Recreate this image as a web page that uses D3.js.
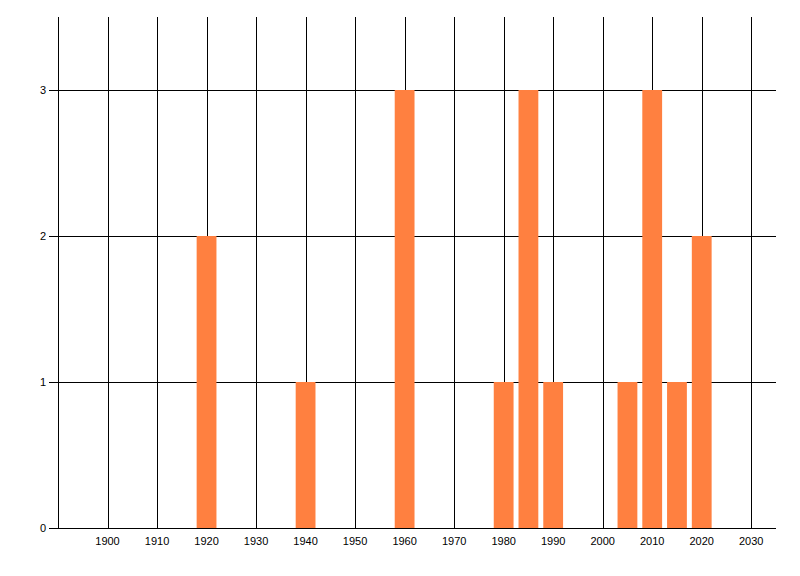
<!DOCTYPE html>
<html>
<head>
<meta charset="utf-8">
<script src="https://cdn.jsdelivr.net/npm/d3@7"></script>
<style>
  body { margin: 0; background: #fff; }
  text { font-family: "Liberation Sans", Arial, sans-serif; font-size: 11px; fill: #000; }
</style>
</head>
<body>
<script>
// data
const years = [1920, 1940, 1960, 1980, 1985, 1990, 2005, 2010, 2015, 2020];
const counts = [2, 1, 3, 1, 3, 1, 1, 3, 1, 2];
const xTicks = [1900, 1910, 1920, 1930, 1940, 1950, 1960, 1970, 1980, 1990, 2000, 2010, 2020, 2030];
const yTicks = [0, 1, 2, 3];

const width = 800, height = 576;
const margin = { top: 17, right: 24, bottom: 48, left: 58 };

const svg = d3.select("body")
  .append("svg")
  .attr("width", width)
  .attr("height", height);

const x = d3.scaleLinear()
  .domain([1890, 2035])
  .range([margin.left, width - margin.right]);

const y = d3.scaleLinear()
  .domain([0, 3.5])
  .range([height - margin.bottom, margin.top]);

const barW = x(1894) - x(1890);

// vertical grid
svg.append("g")
  .selectAll("line")
  .data(xTicks)
  .enter()
  .append("line")
  .attr("x1", d => Math.round(x(d)) + 0.5)
  .attr("x2", d => Math.round(x(d)) + 0.5)
  .attr("y1", y(3.5))
  .attr("y2", y(0))
  .attr("stroke", "#000");

// horizontal grid (with the little tick to the left)
svg.append("g")
  .selectAll("line")
  .data(yTicks)
  .enter()
  .append("line")
  .attr("x1", margin.left - 9)
  .attr("x2", x(2035))
  .attr("y1", d => Math.round(y(d)) + 0.5)
  .attr("y2", d => Math.round(y(d)) + 0.5)
  .attr("stroke", "#000");

// bars
svg.append("g")
  .selectAll("rect")
  .data(years)
  .enter()
  .append("rect")
  .attr("x", d => x(d) - barW / 2)
  .attr("width", barW)
  .attr("y", (d, i) => y(counts[i]))
  .attr("height", (d, i) => y(0) - y(counts[i]))
  .attr("fill", "#ff8040");

// axes lines
svg.append("line")
  .attr("x1", Math.round(x(1890)) + 0.5)
  .attr("x2", Math.round(x(1890)) + 0.5)
  .attr("y1", y(3.5))
  .attr("y2", y(0))
  .attr("stroke", "#000");

svg.append("line")
  .attr("x1", margin.left - 9)
  .attr("x2", x(2035))
  .attr("y1", Math.round(y(0)) + 0.5)
  .attr("y2", Math.round(y(0)) + 0.5)
  .attr("stroke", "#000");

// labels
svg.append("g")
  .selectAll("text")
  .data(xTicks)
  .enter()
  .append("text")
  .attr("x", d => x(d))
  .attr("y", y(0) + 17)
  .attr("text-anchor", "middle")
  .text(d => d);

svg.append("g")
  .selectAll("text")
  .data(yTicks)
  .enter()
  .append("text")
  .attr("x", margin.left - 12)
  .attr("y", d => y(d) + 4)
  .attr("text-anchor", "end")
  .text(d => d);
</script>
</body>
</html>
